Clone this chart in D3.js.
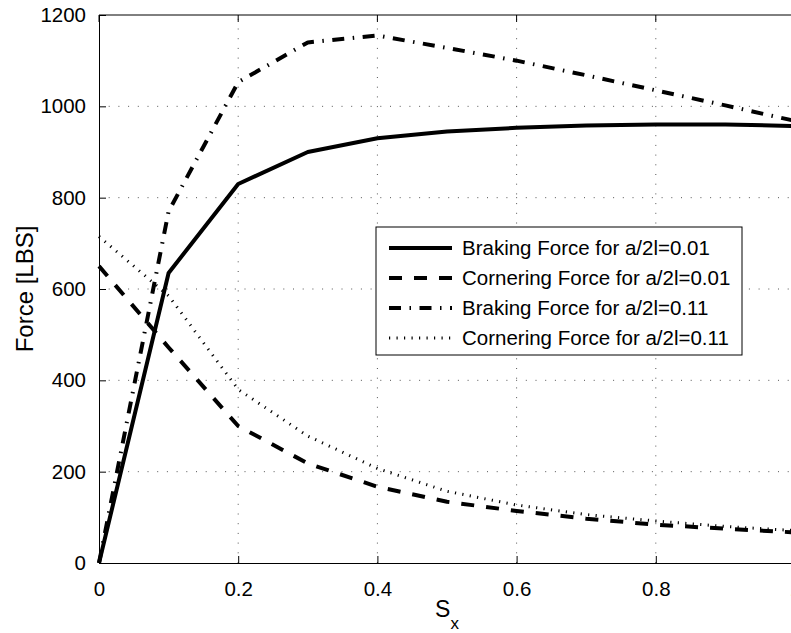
<!DOCTYPE html>
<html>
<head>
<meta charset="utf-8">
<script src="https://cdn.jsdelivr.net/npm/d3@7"></script>
<style>
  body { margin: 0; background: white; }
  svg { display: block; }
  text { font-family: "Liberation Sans", Arial, sans-serif; fill: black; }
</style>
</head>
<body>
<div id="chart"></div>
<script>

var sx = [0, 0.1, 0.2, 0.3, 0.4, 0.5, 0.6, 0.7, 0.8, 0.9, 1.0];

var braking001 = [0, 635, 830, 900, 930, 945, 953, 958, 960, 960, 957];
var cornering001 = [650, 472, 300, 218, 167, 134, 114, 97, 84, 75, 67];
var braking011 = [0, 770, 1053, 1140, 1155, 1128, 1100, 1068, 1035, 1002, 968];
var cornering011 = [715, 585, 380, 278, 207, 157, 127, 106, 92, 80, 71];

var xTicks = [0, 0.2, 0.4, 0.6, 0.8, 1];
var xTickLabels = ["0", "0.2", "0.4", "0.6", "0.8", "1"];
var yTicks = [0, 200, 400, 600, 800, 1000, 1200];

var seriesNames = [
    "Braking Force for a/2l=0.01",
    "Cornering Force for a/2l=0.01",
    "Braking Force for a/2l=0.11",
    "Cornering Force for a/2l=0.11"
];

function createChart() {

    var width = 791;
    var height = 633;

    var margin = {
        top: 15,
        left: 99,
        right: -4,
        bottom: 70
    };

    var plotW = width - margin.left - margin.right;
    var plotH = height - margin.top - margin.bottom;

    var svg = d3.select("#chart").append("svg")
        .attr("width", width)
        .attr("height", height);

    var x = d3.scaleLinear().domain([0, 1]).range([margin.left, margin.left + plotW]);
    var y = d3.scaleLinear().domain([0, 1200]).range([margin.top + plotH, margin.top]);

    // grid
    var grid = svg.append("g");
    grid.selectAll(".gx")
        .data(xTicks.slice(1))
        .enter().append("line")
        .attr("x1", d => x(d)).attr("x2", d => x(d))
        .attr("y1", y(0)).attr("y2", y(1200))
        .attr("stroke", "#555")
        .attr("stroke-width", 1)
        .attr("stroke-dasharray", "1,8.7");
    grid.selectAll(".gy")
        .data(yTicks.slice(1, -1))
        .enter().append("line")
        .attr("y1", d => y(d)).attr("y2", d => y(d))
        .attr("x1", x(0)).attr("x2", x(1))
        .attr("stroke", "#555")
        .attr("stroke-width", 1)
        .attr("stroke-dasharray", "1,8.7");

    // box top
    svg.append("line")
        .attr("x1", x(0)).attr("x2", x(1))
        .attr("y1", y(1200)).attr("y2", y(1200))
        .attr("stroke", "black");

    var xAxis = svg.append("g")
        .attr("transform", "translate(0," + y(0) + ")")
        .call(d3.axisBottom(x).tickValues(xTicks).tickSize(-7).tickPadding(18)
            .tickFormat((d, i) => xTickLabels[i]));
    xAxis.select(".domain").attr("stroke", "black");
    xAxis.selectAll("text").style("font-size", "20.5px");

    var yAxis = svg.append("g")
        .attr("transform", "translate(" + x(0) + ",0)")
        .call(d3.axisLeft(y).tickValues(yTicks).tickSize(-7).tickPadding(13)
            .tickFormat(d3.format("d")));
    yAxis.select(".domain").attr("stroke", "black");
    yAxis.selectAll("text").style("font-size", "20.5px");

    // top ticks
    svg.append("g").selectAll("line")
        .data(xTicks)
        .enter().append("line")
        .attr("x1", d => x(d)).attr("x2", d => x(d))
        .attr("y1", y(1200)).attr("y2", y(1200) + 7)
        .attr("stroke", "black");

    // series
    var styles = [
        { data: braking001, dash: null, w: 4 },
        { data: cornering001, dash: "13,12", w: 4 },
        { data: braking011, dash: "12,8.5,1.5,8.5", w: 4 },
        { data: cornering011, dash: "1.2,6.3", w: 3 }
    ];

    var line = d3.line()
        .x((d, i) => x(sx[i]))
        .y(d => y(d));

    styles.forEach(function(s) {
        svg.append("path")
            .attr("d", line(s.data))
            .attr("fill", "none")
            .attr("stroke", "black")
            .attr("stroke-width", s.w)
            .attr("stroke-dasharray", s.dash)
            .attr("stroke-linejoin", "round");
    });

    // legend
    var legend = svg.append("g").attr("transform", "translate(376,227)");
    legend.append("rect")
        .attr("width", 366)
        .attr("height", 128)
        .attr("fill", "white")
        .attr("stroke", "black")
        .attr("stroke-width", 1);

    styles.forEach(function(s, i) {
        var ly = 21 + i * 30;
        legend.append("line")
            .attr("x1", 13).attr("x2", 76)
            .attr("y1", ly).attr("y2", ly)
            .attr("stroke", "black")
            .attr("stroke-width", s.w)
            .attr("stroke-dasharray", s.dash);
        legend.append("text")
            .attr("x", 86)
            .attr("y", ly)
            .attr("dy", "0.35em")
            .style("font-size", "20.5px")
            .text(seriesNames[i]);
    });

    // axis labels
    svg.append("text")
        .attr("transform", "translate(33," + (margin.top + plotH / 2) + ") rotate(-90)")
        .attr("text-anchor", "middle")
        .style("font-size", "24px")
        .text("Force [LBS]");

    var xl = svg.append("text")
        .attr("x", 447)
        .attr("y", 617)
        .attr("text-anchor", "middle")
        .style("font-size", "23px");
    xl.append("tspan").text("S");
    xl.append("tspan")
        .attr("dy", 12)
        .style("font-size", "17px")
        .text("x");
}

createChart();
</script>
</body>
</html>
